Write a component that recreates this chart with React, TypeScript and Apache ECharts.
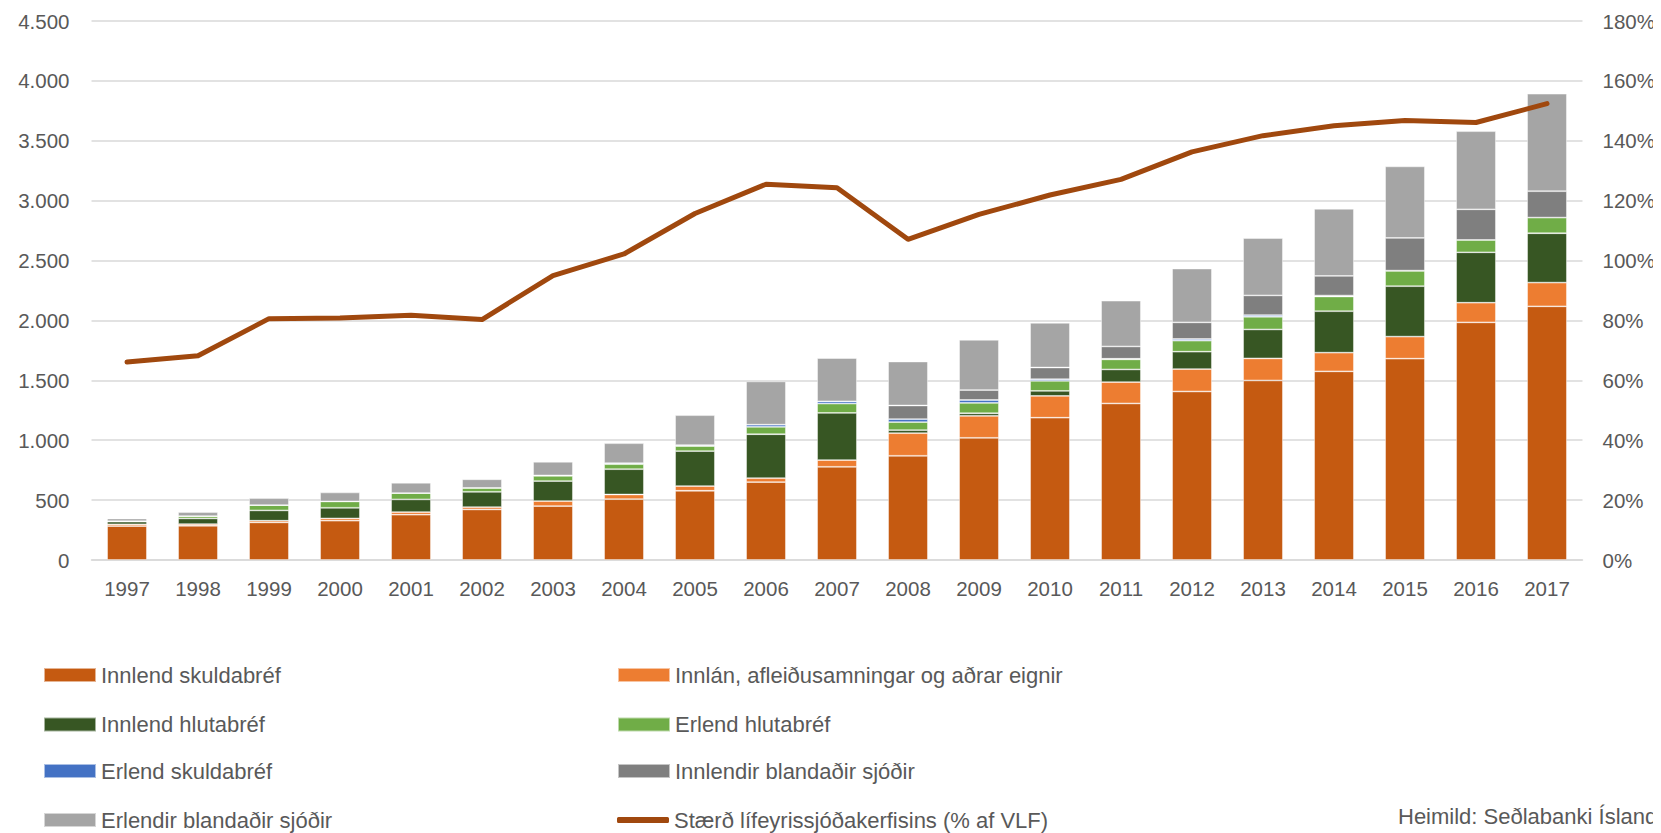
import React, { useEffect, useRef } from "react";
import * as echarts from "echarts";

const years = ["1997","1998","1999","2000","2001","2002","2003","2004","2005","2006","2007","2008","2009","2010","2011","2012","2013","2014","2015","2016","2017"];

const innlendSkuldabref = [283,286,314,328,378,422,450,508,578,650,778,870,1020,1188,1307,1407,1499,1575,1681,1984,2118];
const innlanOgAdrar = [15,14,14,19,22,19,42,39,39,33,56,189,183,182,178,187,184,156,184,164,198];
const innlendHlutabref = [22,47,86,89,106,128,167,211,292,367,394,25,22,42,106,145,242,346,421,421,412];
const erlendHlutabref = [4,19,44,53,53,33,44,42,42,61,78,67,86,83,84,92,106,123,128,103,131];
const erlendSkuldabref = [0,0,0,0,0,0,3,8,8,19,19,25,25,14,5,14,14,8,2,0,0];
const innlendirBlandadir = [0,0,0,0,0,0,0,0,0,0,0,114,83,98,103,139,164,164,273,256,220];
const erlendirBlandadir = [22,33,58,75,86,72,114,167,250,361,361,367,419,373,382,449,478,560,597,652,814];
const lifeyrisPct = [66.1,68.2,80.6,80.8,81.7,80.3,95.0,102.2,115.7,125.5,124.3,107.1,115.4,121.9,127.1,136.3,141.7,145.0,146.8,146.1,152.4];

const yLeftTicks = { min: 0, max: 4500, interval: 500 };
const yRightTicks = { min: 0, max: 180, interval: 20 };

const FONT = "'Liberation Sans', Arial, sans-serif";
const TXT = "#595959";
const LINE_NAME = "Stærð lífeyrissjóðakerfisins (% af VLF)";

// legend grid: [name, column, row]
const legendLayout: [string, number, number][] = [
  ["Innlend skuldabréf", 0, 0],
  ["Innlán, afleiðusamningar og aðrar eignir", 1, 0],
  ["Innlend hlutabréf", 0, 1],
  ["Erlend hlutabréf", 1, 1],
  ["Erlend skuldabréf", 0, 2],
  ["Innlendir blandaðir sjóðir", 1, 2],
  ["Erlendir blandaðir sjóðir", 0, 3],
  [LINE_NAME, 1, 3],
];

export default function App() {
  const ref = useRef<HTMLDivElement>(null);
  useEffect(() => {
    if (!ref.current) return;
    const chart = echarts.init(ref.current, null, { renderer: "svg" });
    const barBase = {
      type: "bar",
      stack: "total",
      barCategoryGap: "44%",
      itemStyle: { borderColor: "rgba(255,255,255,0.55)", borderWidth: 0.8 },
    };
    const bars = [
      { name: "Innlend skuldabréf", data: innlendSkuldabref, color: "#C55A11" },
      { name: "Innlán, afleiðusamningar og aðrar eignir", data: innlanOgAdrar, color: "#ED7D31" },
      { name: "Innlend hlutabréf", data: innlendHlutabref, color: "#375623" },
      { name: "Erlend hlutabréf", data: erlendHlutabref, color: "#70AD47" },
      { name: "Erlend skuldabréf", data: erlendSkuldabref, color: "#4472C4" },
      { name: "Innlendir blandaðir sjóðir", data: innlendirBlandadir, color: "#7F7F7F" },
      { name: "Erlendir blandaðir sjóðir", data: erlendirBlandadir, color: "#A5A5A5" },
    ].map((b) => ({
      ...barBase,
      name: b.name,
      data: b.data,
      itemStyle: { ...barBase.itemStyle, color: b.color },
    }));
    const legendText = { color: TXT, fontSize: 22, fontFamily: FONT };
    const colX = [43, 617];
    const rowY = [677, 726.5, 773, 822];
    const legends = legendLayout.map(([name, c, r]) => {
      const isLine = name === LINE_NAME;
      return {
        left: colX[c],
        top: rowY[r] - 13,
        padding: 0,
        itemWidth: 52,
        itemHeight: isLine ? 6 : 14,
        icon: isLine ? "roundRect" : "rect",
        textStyle: legendText,
        data: [{ name, icon: isLine ? "roundRect" : "rect" }],
      };
    });
    chart.setOption({
      animation: false,
      textStyle: { fontFamily: FONT },
      grid: { left: 91.5, right: 78.5, top: 21, bottom: 273, containLabel: false },
      legend: legends,
      xAxis: {
        type: "category",
        data: years,
        axisLine: { lineStyle: { color: "#D9D9D9", width: 1.5 } },
        axisTick: { show: false },
        axisLabel: { color: TXT, fontSize: 20.5, margin: 18, fontFamily: FONT },
      },
      yAxis: [
        {
          type: "value",
          ...yLeftTicks,
          axisLine: { show: false },
          axisTick: { show: false },
          splitLine: { lineStyle: { color: "#D9D9D9", width: 1.5 } },
          axisLabel: {
            color: TXT,
            fontSize: 20.5,
            margin: 22,
            fontFamily: FONT,
            formatter: (v: number) => v.toString().replace(/\B(?=(\d{3})+(?!\d))/g, "."),
          },
        },
        {
          type: "value",
          ...yRightTicks,
          position: "right",
          axisLine: { show: false },
          axisTick: { show: false },
          splitLine: { show: false },
          axisLabel: { color: TXT, fontSize: 20.5, margin: 20, fontFamily: FONT, formatter: "{value}%" },
        },
      ],
      series: [
        ...bars,
        {
          type: "line",
          name: LINE_NAME,
          yAxisIndex: 1,
          data: lifeyrisPct,
          symbol: "none",
          lineStyle: { color: "#A0480E", width: 5, cap: "round", join: "round" },
          itemStyle: { color: "#A0480E" },
          z: 5,
        },
      ],
      graphic: [
        {
          type: "text",
          left: 1398,
          top: 805,
          style: { text: "Heimild: Seðlabanki Íslands", fill: TXT, fontSize: 22, fontFamily: FONT },
        },
      ],
    });
    return () => chart.dispose();
  }, []);
  return <div ref={ref} style={{ width: 1661, height: 833, marginLeft: -8, marginTop: -8 }} />;
}
